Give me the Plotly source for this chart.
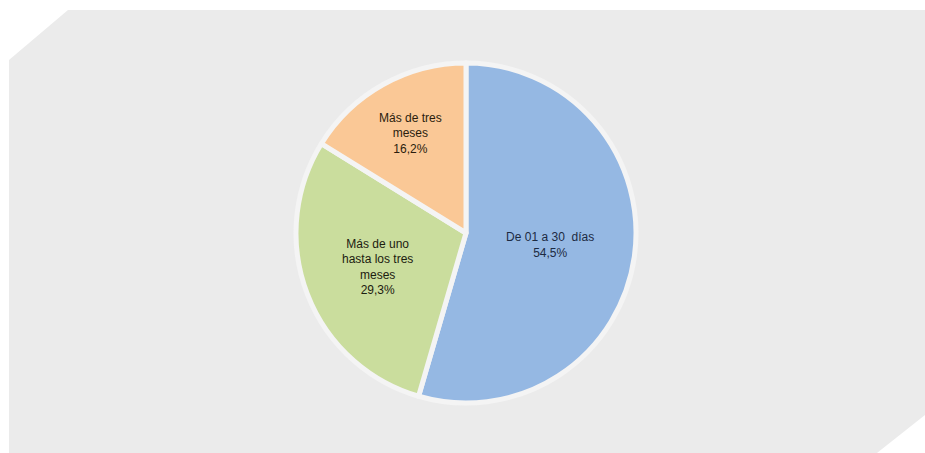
import plotly.graph_objects as go

categories = ["De 01 a 30  días", "Más de uno<br>hasta los tres<br>meses", "Más de tres<br>meses"]
values = [54.5, 29.3, 16.2]
value_labels = ["54,5%", "29,3%", "16,2%"]
colors = ["#95b8e3", "#cadd9d", "#fac896"]

texts = [f"{c}<br>{v}" for c, v in zip(categories, value_labels)]

W, H = 925, 453
cx, cy, r = 466, 233, 170

fig = go.Figure()
fig.add_trace(go.Pie(
    labels=categories,
    values=values,
    text=texts,
    textinfo="text",
    textposition="inside",
    insidetextorientation="horizontal",
    sort=False,
    direction="clockwise",
    rotation=0,
    marker=dict(colors=colors, line=dict(color="#f4f4f4", width=5)),
    textfont=dict(family="Liberation Sans, Arial, sans-serif",
                  size=12, color=["#1c2a42", "#1c2010", "#2a1d0e"]),
    hoverinfo="label+percent",
    showlegend=False,
    domain=dict(x=[(cx - r) / W, (cx + r) / W], y=[1 - (cy + r) / H, 1 - (cy - r) / H]),
))

pts = [(9, 453), (9, 60), (68, 10), (925, 10), (925, 415), (877, 453)]
path = "M " + " L ".join(f"{x / W:.4f},{1 - y / H:.4f}" for x, y in pts) + " Z"

fig.update_layout(
    width=W, height=H,
    margin=dict(l=0, r=0, t=0, b=0),
    paper_bgcolor="white",
    plot_bgcolor="white",
    shapes=[dict(type="path", xref="paper", yref="paper", path=path,
                 fillcolor="#ebebeb", line=dict(width=0), layer="below")],
)

fig.write_html(
    "out.html",
    config={"displayModeBar": False},
    post_script="document.body.style.margin='0';document.body.style.overflow='hidden';",
)
